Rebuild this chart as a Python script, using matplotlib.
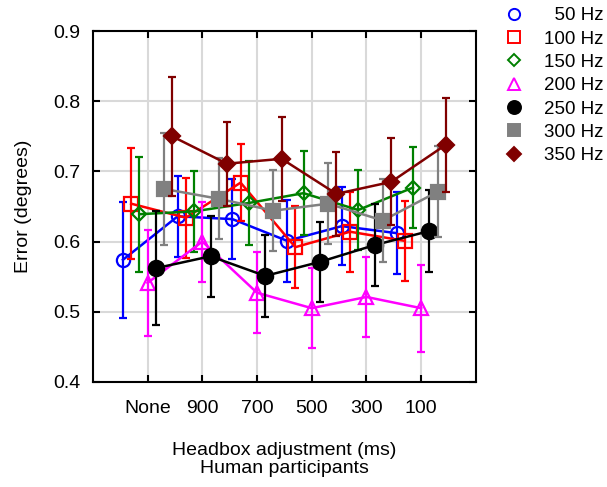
import numpy as np
import matplotlib
matplotlib.use("Agg")
import matplotlib.pyplot as plt
from matplotlib.lines import Line2D

plt.rcParams['font.family'] = ['Liberation Sans', 'DejaVu Sans']

conditions = ['None', '900', '700', '500', '300', '100']
freqs = ['50 Hz', '100 Hz', '150 Hz', '200 Hz', '250 Hz', '300 Hz', '350 Hz']

err_50 = [0.574, 0.636, 0.632, 0.601, 0.622, 0.612]
sd_50 = [0.083, 0.058, 0.057, 0.058, 0.056, 0.058]
err_100 = [0.654, 0.634, 0.684, 0.592, 0.614, 0.601]
sd_100 = [0.079, 0.057, 0.055, 0.058, 0.057, 0.057]
err_150 = [0.639, 0.643, 0.655, 0.669, 0.645, 0.677]
sd_150 = [0.082, 0.058, 0.060, 0.060, 0.057, 0.058]
err_200 = [0.541, 0.600, 0.527, 0.505, 0.521, 0.505]
sd_200 = [0.075, 0.057, 0.058, 0.057, 0.057, 0.062]
err_250 = [0.562, 0.579, 0.551, 0.571, 0.595, 0.615]
sd_250 = [0.081, 0.058, 0.058, 0.057, 0.058, 0.058]
err_300 = [0.675, 0.661, 0.644, 0.654, 0.630, 0.671]
sd_300 = [0.080, 0.058, 0.058, 0.058, 0.059, 0.065]
err_350 = [0.750, 0.711, 0.718, 0.668, 0.685, 0.738]
sd_350 = [0.085, 0.060, 0.060, 0.060, 0.062, 0.067]

means = [err_50, err_100, err_150, err_200, err_250, err_300, err_350]
sds = [sd_50, sd_100, sd_150, sd_200, sd_250, sd_300, sd_350]

styles = [
    dict(color='#0000ff', marker='o', mfc='none', ms=9.5),
    dict(color='#ff0000', marker='s', mfc='none', ms=10),
    dict(color='#008000', marker='D', mfc='none', ms=7.5),
    dict(color='#ff00ff', marker='^', mfc='none', ms=10),
    dict(color='#000000', marker='o', mfc='#000000', ms=11),
    dict(color='#808080', marker='s', mfc='#808080', ms=10),
    dict(color='#800000', marker='D', mfc='#800000', ms=8.5),
]

fig = plt.figure(figsize=(6.07, 4.87), dpi=100)
ax = fig.add_axes([0.153, 0.216, 0.631, 0.72])

x = np.arange(1, len(conditions) + 1)
offsets = np.linspace(-0.45, 0.45, len(freqs))

for i, (m, s, st) in enumerate(zip(means, sds, styles)):
    ax.errorbar(x + offsets[i], m, yerr=s, color=st['color'], marker=st['marker'],
                mfc=st['mfc'], mec=st['color'], ms=st['ms'], mew=1.6, lw=1.8,
                elinewidth=1.6, capsize=3, capthick=1.6, zorder=3 + i)

ax.set_xlim(0, 7)
ax.set_ylim(0.4, 0.9)
ax.set_xticks(x)
ax.set_xticklabels(conditions)
ax.set_yticks(np.arange(0.4, 0.91, 0.1))
ax.set_yticklabels(['0.4', '0.5', '0.6', '0.7', '0.8', '0.9'])
ax.grid(True, color='#d9d9d9', lw=1.5, zorder=0)
ax.set_axisbelow(True)
ax.tick_params(direction='in', top=True, right=True, length=5, width=1.5,
               labelsize=14)
ax.tick_params(axis='x', pad=13)
ax.tick_params(axis='y', pad=9)
for sp in ax.spines.values():
    sp.set_linewidth(1.5)

ax.set_ylabel('Error (degrees)', fontsize=14, labelpad=15)
ax.set_xlabel('Headbox adjustment (ms)\nHuman participants', fontsize=14,
              labelpad=18, linespacing=1.1)

handles = [Line2D([], [], ls='none', marker=st['marker'], color=st['color'],
                  mfc=st['mfc'], mec=st['color'], ms=st['ms'] * 0.85, mew=1.4)
           for st in styles]
labels = ['  50 Hz'] + freqs[1:]
fig.legend(handles, labels, loc='upper left', bbox_to_anchor=(0.81, 1.012),
           frameon=False, fontsize=13.5, handlelength=1.0, handletextpad=1.1,
           labelspacing=0.33, borderaxespad=0.3)

fig.savefig('out.png', dpi=100)
